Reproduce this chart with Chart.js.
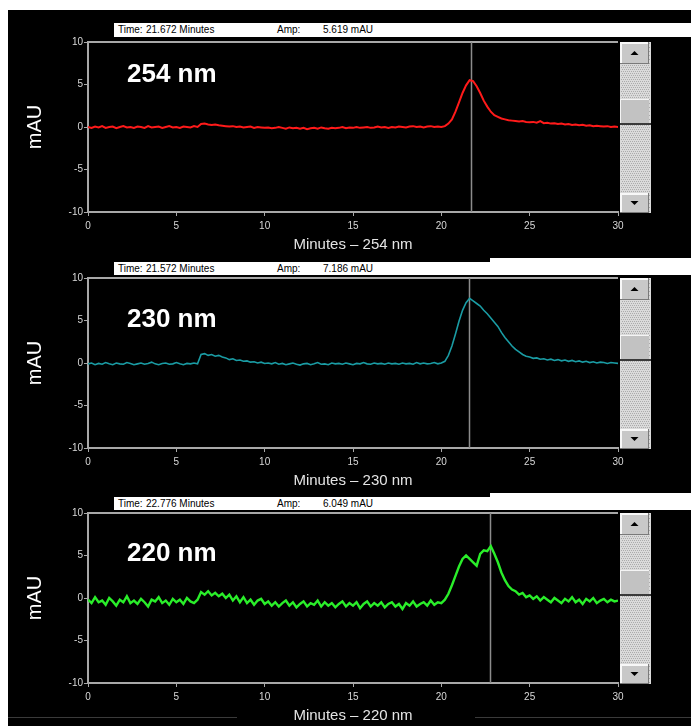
<!DOCTYPE html>
<html>
<head>
<meta charset="utf-8">
<script src="https://cdn.jsdelivr.net/npm/chart.js@4.4.0/dist/chart.umd.min.js"></script>
<style>
  html, body { margin: 0; padding: 0; background: #fff; width: 691px; height: 726px; overflow: hidden; }
  #stage { position: absolute; left: 8px; top: 10px; width: 683px; height: 716px; background: #000; }
  canvas { position: absolute; left: 0; }
  .hdr { position: absolute; left: 114px; width: 577px; background: #fff; color: #000;
         font: 10px "Liberation Sans", Arial, sans-serif; }
  .hdr span { position: absolute; top: 0; white-space: pre; }
  .strip { position: absolute; left: 490px; width: 201px; height: 4px; background: #fff; }
  .band { position: absolute; left: 127px; color: #fff; font: bold 26px/26px "Liberation Sans", Arial, sans-serif; }
  .seam { position: absolute; top: 717px; height: 1px; background: #3a3a3a; }
</style>
</head>
<body>
<div id="stage"></div>
<canvas id="c0" width="691" height="250" style="top:10px"></canvas>
<canvas id="c1" width="691" height="250" style="top:246px"></canvas>
<canvas id="c2" width="691" height="250" style="top:481px"></canvas>
<div class="seam" style="left:8px;width:229px"></div>
<div class="seam" style="left:475px;width:216px"></div>
<script>
// Chromatogram traces, one sample every 0.2 min (0 - 30 min)
const sampleStep = 0.2;
const wavelengths = ['254 nm', '230 nm', '220 nm'];
const cursorMinutes = [21.672, 21.572, 22.776];
const cursorAmps = ['5.619', '7.186', '6.049'];
const minuteTicks = [0, 5, 10, 15, 20, 25, 30];
const mauTicks = [-10, -5, 0, 5, 10];

const trace254 = [
  0.0, -0.1, 0.05, -0.05, 0.1, -0.1, 0.0, 0.05, -0.15, 0.0,
  0.1, -0.05, 0.0, -0.1, 0.05, 0.0, -0.1, 0.1, -0.05, 0.0,
  0.05, -0.1, 0.0, 0.1, -0.05, 0.0, -0.1, 0.05, 0.0, -0.05,
  0.1, 0.0, 0.35, 0.4, 0.3, 0.25, 0.3, 0.2, 0.15, 0.1,
  0.05, 0.1, 0.0, 0.05, -0.05, 0.0, 0.05, -0.1, 0.0, -0.05,
  -0.1, -0.05, -0.15, -0.1, 0.0, -0.1, -0.2, -0.05, -0.15, -0.1,
  -0.2, -0.1, -0.25, -0.15, -0.1, -0.2, -0.05, -0.15, -0.2, -0.1,
  -0.15, -0.1, 0.0, -0.15, -0.05, -0.1, 0.0, -0.1, -0.05, 0.0,
  -0.1, -0.05, 0.05, -0.05, 0.0, -0.1, 0.0, -0.05, 0.05, 0.0,
  -0.05, 0.05, 0.1, 0.0, 0.05, -0.05, 0.05, 0.1, 0.0, 0.05,
  0.0, 0.1, 0.4, 0.9, 1.8, 2.9, 4.0, 4.9, 5.5, 5.4,
  4.8, 4.0, 3.1, 2.4, 1.8, 1.4, 1.2, 1.0, 0.9, 0.8,
  0.75, 0.7, 0.65, 0.7, 0.6, 0.55, 0.6, 0.5, 0.7, 0.45,
  0.5, 0.4, 0.45, 0.35, 0.4, 0.3, 0.35, 0.25, 0.3, 0.2,
  0.25, 0.15, 0.2, 0.1, 0.15, 0.1, 0.05, 0.1, 0.0, 0.05,
  0.0
];

const trace230 = [
  -0.1, 0.0, -0.2, -0.05, -0.15, 0.05, -0.1, -0.2, 0.0, -0.1,
  -0.15, 0.05, -0.05, -0.2, -0.1, 0.0, -0.15, -0.05, 0.1, -0.1,
  -0.2, -0.05, 0.0, -0.15, -0.1, 0.05, -0.1, -0.2, -0.05, -0.1,
  0.0, -0.1, 1.0, 1.1, 0.9, 1.0, 0.8, 0.9, 0.7, 0.6,
  0.4, 0.5, 0.3, 0.35, 0.2, 0.25, 0.1, 0.15, 0.0, 0.1,
  -0.05, 0.0, -0.1, 0.05, -0.15, -0.05, -0.2, -0.1, 0.0, -0.15,
  -0.25, -0.1, -0.05, -0.2, -0.1, 0.05, -0.15, -0.1, -0.2, 0.0,
  -0.1, -0.05, -0.15, 0.0, -0.1, -0.2, -0.05, -0.1, 0.05, -0.1,
  -0.15, 0.0, -0.1, -0.05, -0.15, 0.0, -0.1, -0.05, -0.15, 0.0,
  -0.1, -0.05, -0.15, 0.05, -0.1, 0.0, -0.1, -0.05, 0.05, -0.1,
  0.0, 0.2, 0.9, 2.0, 3.4, 4.9, 6.2, 7.1, 7.6, 7.3,
  7.0, 6.7, 6.2, 5.8, 5.3, 4.8, 4.3, 3.6, 3.0, 2.5,
  2.0, 1.6, 1.3, 1.0, 0.8, 0.7, 0.55, 0.6, 0.45, 0.5,
  0.35, 0.45, 0.3, 0.4, 0.25, 0.35, 0.2, 0.3, 0.15, 0.25,
  0.1, 0.2, 0.05, 0.15, 0.0, 0.1, 0.05, -0.05, 0.05, 0.0,
  -0.05
];

const trace220 = [
  -0.2, -0.6, 0.1, -0.5, -0.3, -0.8, 0.0, -0.4, -0.9, -0.2,
  -0.5, 0.2, -0.6, -0.3, -0.7, -0.1, -0.5, -1.0, -0.2, -0.4,
  0.1, -0.6, -0.3, -0.8, -0.1, -0.5, -0.2, -0.7, 0.0, -0.4,
  -0.6, -0.2, 0.7, 0.4, 0.8, 0.3, 0.6, 0.2, 0.5, 0.0,
  0.4, -0.3, 0.2, -0.5, 0.1, -0.6, -0.2, -0.8, -0.3, -0.1,
  -0.7, -0.4, -0.9, -0.5, -1.0, -0.6, -0.3, -0.9, -0.5, -1.1,
  -0.7, -0.4, -1.0, -0.6, -0.8, -0.3, -1.0, -0.5, -0.9, -0.6,
  -1.1, -0.7, -0.4, -1.0, -0.6, -0.9, -0.5, -1.2, -0.7, -0.4,
  -1.0, -0.6, -0.9, -0.5, -1.1, -0.7, -0.5, -1.0, -0.7, -1.3,
  -0.6, -0.9, -0.4, -1.0, -0.7, -0.5, -0.9, -0.3, -0.8, -0.5,
  -0.6, -0.2, 0.5, 1.5, 2.6, 3.7, 4.6, 5.0, 4.6, 4.2,
  3.8, 5.2, 5.6, 5.5, 6.1, 5.2, 4.2, 3.0, 2.1, 1.4,
  1.0, 0.8, 0.4, 0.6, 0.1, 0.3, -0.1, 0.2, -0.3, 0.1,
  -0.2, -0.5, 0.0, -0.3, -0.6, -0.1, -0.4, 0.1, -0.5, -0.2,
  -0.7, -0.1, -0.4, 0.0, -0.6, -0.3, -0.1, -0.5, -0.2, -0.4,
  -0.3
];

const traces = [trace254, trace230, trace220];
const traceColors = ['#ff1a1a', '#1a9ca4', '#2aee2a'];
const traceWidths = [2, 1.6, 2.4];

const FONT = '"Liberation Sans", Arial, sans-serif';
const canvasTops = [10, 246, 481];
const headerTops = [23, 262, 497];
const headerHeights = [14, 13, 13];
const bandTops = [60, 305, 539];

// scroll button with arrow
function drawButton(ctx, x, y, w, h, up) {
  ctx.fillStyle = '#c8c8c8';
  ctx.fillRect(x, y, w, h);
  ctx.fillStyle = '#f8f8f8';
  ctx.fillRect(x, y, w, 2);
  ctx.fillRect(x, y, 2, h);
  ctx.fillStyle = '#7a7a7a';
  ctx.fillRect(x, y + h - 1, w, 1);
  ctx.fillRect(x + w - 1, y, 1, h);
  const cx = x + w / 2, cy = y + h / 2;
  ctx.fillStyle = '#000';
  ctx.beginPath();
  if (up) {
    ctx.moveTo(cx - 4, cy + 2); ctx.lineTo(cx + 4, cy + 2); ctx.lineTo(cx, cy - 2);
  } else {
    ctx.moveTo(cx - 4, cy - 2); ctx.lineTo(cx + 4, cy - 2); ctx.lineTo(cx, cy + 2);
  }
  ctx.fill();
}

function drawScrollbar(ctx, x, top, bottom) {
  const w = 29;
  ctx.fillStyle = '#dadada';
  ctx.fillRect(x, top, w + 2, bottom - top);
  ctx.fillStyle = '#ababab';
  for (let yy = top + 1; yy < bottom; yy += 2) {
    for (let xx = x + 1 + ((yy - top) % 4 === 1 ? 0 : 1); xx < x + w + 1; xx += 2) {
      ctx.fillRect(xx, yy, 1, 1);
    }
  }
  drawButton(ctx, x, top, w, 22, true);
  drawButton(ctx, x, bottom - 20, w, 20, false);
  // thumb
  ctx.fillStyle = '#c2c2c2';
  ctx.fillRect(x, top + 57, w, 24);
  ctx.fillStyle = '#f4f4f4';
  ctx.fillRect(x, top + 57, w, 1);
  ctx.fillRect(x, top + 57, 1, 24);
  ctx.fillStyle = '#3a3a3a';
  ctx.fillRect(x, top + 81, w + 2, 2);
}

const framePlugin = {
  id: 'frame',
  beforeDatasetsDraw(chart, args, opts) {
    const {ctx, chartArea: a, scales} = chart;
    ctx.save();
    // top edge of the plot box
    ctx.strokeStyle = '#a8a8a8';
    ctx.lineWidth = 2;
    ctx.beginPath();
    ctx.moveTo(a.left, a.top);
    ctx.lineTo(a.right, a.top);
    ctx.stroke();
    // cursor line
    const cx = Math.round(scales.x.getPixelForValue(opts.cursor)) + 0.5;
    ctx.strokeStyle = '#8c8c8c';
    ctx.lineWidth = 1.5;
    ctx.beginPath();
    ctx.moveTo(cx, a.top);
    ctx.lineTo(cx, a.bottom);
    ctx.stroke();
    ctx.restore();
  },
  afterDraw(chart) {
    const {ctx, chartArea: a} = chart;
    ctx.save();
    drawScrollbar(ctx, a.right + 2, a.top, a.bottom + 1);
    ctx.restore();
  }
};

function makePanel(idx) {
  const values = traces[idx];
  const canvas = document.getElementById('c' + idx);
  new Chart(canvas, {
    type: 'line',
    data: {
      datasets: [{
        data: values.map((v, i) => ({x: i * sampleStep, y: v})),
        borderColor: traceColors[idx],
        borderWidth: traceWidths[idx],
        pointRadius: 0,
        tension: 0,
        fill: false
      }]
    },
    options: {
      responsive: false,
      animation: false,
      events: [],
      layout: { padding: { top: 32, left: 0, right: 73, bottom: 6 } },
      plugins: {
        legend: { display: false },
        tooltip: { enabled: false },
        frame: { cursor: cursorMinutes[idx] }
      },
      scales: {
        x: {
          type: 'linear', min: 0, max: 30,
          afterBuildTicks: s => { s.ticks = minuteTicks.map(v => ({value: v})); },
          afterFit: s => { s.height = 42; },
          ticks: { color: '#d8d8d8', font: {size: 10, family: FONT}, padding: 4, maxRotation: 0, autoSkip: false },
          grid: { drawOnChartArea: false, drawTicks: true, tickLength: 4, color: '#a8a8a8' },
          border: { color: '#a8a8a8', width: 2 },
          title: { display: true, text: 'Minutes \u2013 ' + wavelengths[idx], color: '#e4e4e4',
                   font: {size: 15, family: FONT}, padding: {top: 0, bottom: 0} }
        },
        y: {
          type: 'linear', min: -10, max: 10,
          afterBuildTicks: s => { s.ticks = mauTicks.map(v => ({value: v})); },
          afterFit: s => { s.width = 88; },
          ticks: { color: '#d8d8d8', font: {size: 10, family: FONT}, padding: 1 },
          grid: { drawOnChartArea: false, drawTicks: true, tickLength: 4, color: '#a8a8a8' },
          border: { color: '#a8a8a8', width: 2 },
          title: { display: true, text: 'mAU', color: '#ffffff',
                   font: {size: 20, family: FONT}, padding: {top: 23, bottom: 0} }
        }
      }
    },
    plugins: [framePlugin]
  });
}

// header bars and wavelength captions
for (let i = 0; i < 3; i++) {
  if (i > 0) {
    const strip = document.createElement('div');
    strip.className = 'strip';
    strip.style.top = (headerTops[i] - 4) + 'px';
    document.body.appendChild(strip);
  }
  const hdr = document.createElement('div');
  hdr.className = 'hdr';
  hdr.style.top = headerTops[i] + 'px';
  hdr.style.height = headerHeights[i] + 'px';
  hdr.style.lineHeight = headerHeights[i] + 'px';
  hdr.innerHTML =
    '<span style="left:4px">Time:</span>' +
    '<span style="left:32px">' + cursorMinutes[i].toFixed(3) + ' Minutes</span>' +
    '<span style="left:163px">Amp:</span>' +
    '<span style="left:209px">' + cursorAmps[i] + ' mAU</span>';
  document.body.appendChild(hdr);

  const band = document.createElement('div');
  band.className = 'band';
  band.style.top = bandTops[i] + 'px';
  band.textContent = wavelengths[i];
  document.body.appendChild(band);

  makePanel(i);
}
</script>
</body>
</html>
